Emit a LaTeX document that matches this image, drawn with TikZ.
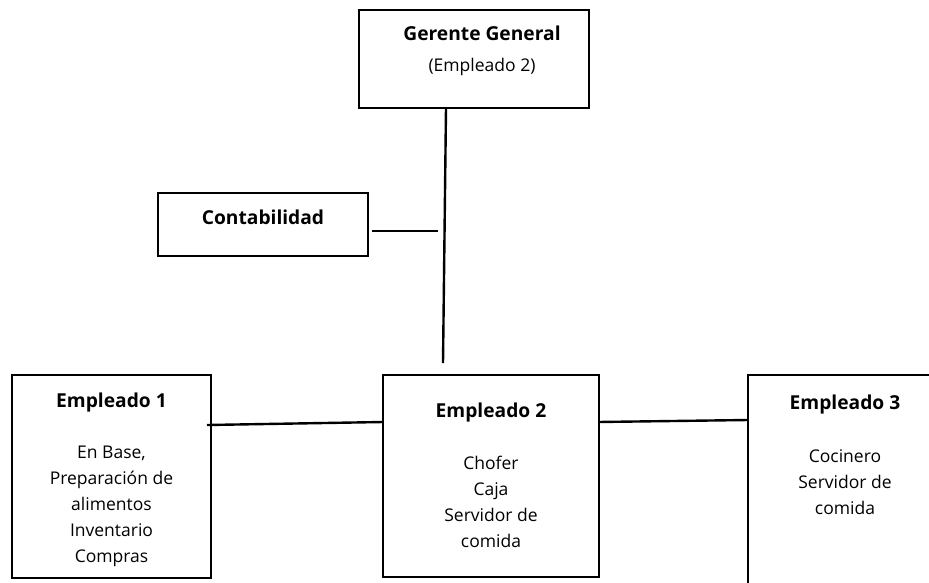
\documentclass[tikz,border=0pt]{standalone}
\usepackage{fontspec}
\setmainfont{Open Sans}
\begin{document}
\begin{tikzpicture}[x=1pt,y=-1pt,
  box/.style={draw=black,line width=2.6pt,inner sep=0pt,rectangle},
  txt/.style={inner sep=0pt,align=center,font=\fontsize{17.5}{26}\selectfont},
  head/.style={inner sep=0pt,align=center,font=\fontsize{19.2}{26}\selectfont\bfseries},
  conn/.style={draw=black,line width=2.4pt}]
\useasboundingbox (0,0) rectangle (929,582);
\clip (0,0) rectangle (929,582);
% boxes
\node[box,minimum width=230pt,minimum height=98pt] (gg) at (474,59) {};
\node[box,minimum width=210pt,minimum height=63pt] (cont) at (263,224.5) {};
\node[box,minimum width=199pt,minimum height=203pt] (e1) at (111.5,476.5) {};
\node[box,minimum width=216pt,minimum height=202pt] (e2) at (491,476) {};
\node[box,minimum width=260pt,minimum height=280pt] (e3) at (878,515) {};
% texts
\node[head] (ggt) at (482,33) {Gerente General};
\node[txt] (ggs) at (482,67) {(Empleado 2)};
\node[head] (contt) at (263,217) {Contabilidad};
\node[head] (e1t) at (111.5,403) {Empleado 1};
\node[txt] (e1b) at (111.5,506) {En Base,\\Preparación de\\alimentos\\Inventario\\Compras};
\node[head] (e2t) at (491,413) {Empleado 2};
\node[txt] (e2b) at (491,502) {Chofer\\Caja\\Servidor de\\comida};
\node[head] (e3t) at (845,405) {Empleado 3};
\node[txt] (e3b) at (845,482) {Cocinero\\Servidor de\\comida};
% connector ends
\coordinate (vtop) at (446,108);
\coordinate (vbot) at (443,363);
\coordinate (ca) at (372,231);
\coordinate (cb) at (438,231);
\coordinate (e1r) at (207,425);
\coordinate (e2l) at (383,422);
\coordinate (e2r) at (598,422);
\coordinate (e3l) at (748,420);
% connectors
\draw[conn] (vtop) -- (vbot);
\draw[conn] (ca) -- (cb);
\draw[conn] (e1r) -- (e2l);
\draw[conn] (e2r) -- (e3l);
\end{tikzpicture}
\end{document}
